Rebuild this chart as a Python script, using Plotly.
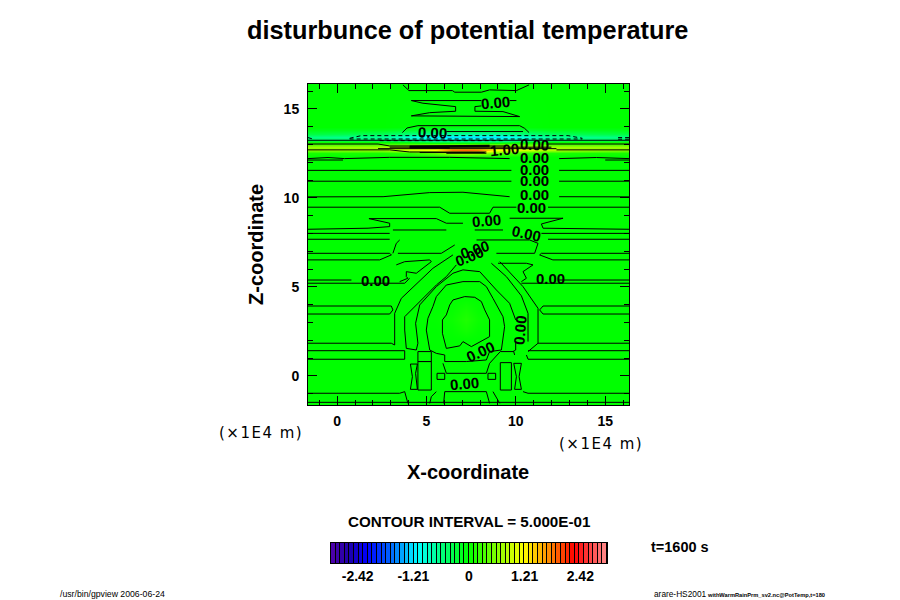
import plotly.graph_objects as go

# field sampled by eye, x and z in units of 1E4 m
field_x = [-1.63, 2.5, 4.0, 5.5, 6.4, 7.2, 7.9, 8.9, 10.5, 12.0, 16.33]
field_z = [-1.63, 2.0, 2.6, 3.2, 3.8, 4.5, 12.3, 12.55, 12.7, 12.85, 13.03, 13.15, 13.25, 13.4, 13.6, 13.8, 14.0, 16.33]
field_values = [
    [0, 0, 0, 0, 0, 0, 0, 0, 0, 0, 0],
    [0, 0, 0, 0, 0, 0, 0, 0, 0, 0, 0],
    [0, 0, 0, 0, 0.02, 0.08, 0.02, 0, 0, 0, 0],
    [0, 0, 0, 0.01, 0.05, 0.14, 0.05, 0.01, 0, 0, 0],
    [0, 0, 0, 0, 0.02, 0.08, 0.02, 0, 0, 0, 0],
    [0, 0, 0, 0, 0, 0, 0, 0, 0, 0, 0],
    [0, 0, 0, 0, 0, 0, 0, 0, 0, 0, 0],
    [0.1, 0.1, 0.2, 0.5, 0.8, 0.9, 0.8, 0.5, 0.2, 0.1, 0.1],
    [0.6, 0.7, 1.0, 1.2, 1.85, 1.9, 1.85, 1.2, 1.0, 0.8, 0.6],
    [0.7, 0.75, 0.85, 1.0, 1.1, 1.1, 1.1, 1.0, 0.85, 0.75, 0.7],
    [0.3, 0.3, 0.35, 0.4, 0.4, 0.4, 0.4, 0.4, 0.35, 0.3, 0.3],
    [0.05, 0.0, -0.1, -0.3, -0.3, -0.3, -0.3, -0.3, -0.1, 0.0, 0.05],
    [-0.4, -0.5, -0.7, -0.9, -0.9, -0.9, -0.9, -0.9, -0.7, -0.5, -0.4],
    [-0.6, -0.7, -0.95, -1.2, -1.2, -1.2, -1.2, -1.2, -0.95, -0.7, -0.6],
    [-0.3, -0.4, -0.55, -0.7, -0.7, -0.7, -0.7, -0.7, -0.55, -0.4, -0.3],
    [-0.1, -0.12, -0.2, -0.3, -0.3, -0.3, -0.3, -0.3, -0.2, -0.12, -0.1],
    [0, 0, -0.02, -0.05, -0.05, -0.05, -0.05, -0.05, -0.02, 0, 0],
    [0, 0, 0, 0, 0, 0, 0, 0, 0, 0, 0],
]

solid_lines = [
    # top of the domain
    [(3.68, 16.35), (4.02, 16.03), (6.45, 16.03), (6.58, 15.94), (8.07, 15.94), (8.53, 16.07), (10.03, 16.03), (10.74, 16.35)],
    [(4.15, 15.47), (8.07, 15.47)],
    [(9.65, 15.47), (10.03, 15.47)],
    [(4.15, 15.47), (4.80, 15.32), (6.63, 15.13), (6.63, 14.87), (5.18, 14.79), (4.15, 14.61), (10.21, 14.57), (9.28, 14.85), (7.71, 14.87), (7.71, 15.13), (8.07, 15.17)],
    [(3.65, 13.67), (3.91, 13.93), (4.52, 14.06), (10.21, 14.06), (10.49, 13.91), (10.74, 13.67)],
    [(6.11, 13.73), (10.40, 13.73)],
    # band around 13
    [(-1.63, 13.24), (16.33, 13.24)],
    [(-1.63, 13.03), (2.29, 13.03), (2.94, 12.92), (9.47, 12.92)],
    [(11.71, 13.03), (16.33, 13.03)],
    [(-1.63, 12.70), (2.94, 12.70), (4.06, 12.58), (8.35, 12.58)],
    [(12.27, 12.70), (16.33, 12.70)],
    [(2.29, 12.77), (12.27, 12.77)],
    [(2.94, 12.85), (11.99, 12.85)],
    [(4.62, 12.55), (8.26, 12.55)],
    [(6.11, 12.51), (8.35, 12.51)],
    # flat layers above the warm bubble
    [(-1.63, 12.21), (-0.51, 12.27), (0.42, 12.21), (2.94, 12.28), (6.30, 12.28), (9.65, 12.21)],
    [(12.42, 12.21), (14.51, 12.27), (16.33, 12.21)],
    [(-1.63, 12.13), (0.33, 12.13)],
    [(15.0, 12.13), (16.33, 12.13)],
    [(-1.63, 11.55), (9.75, 11.55)],
    [(12.42, 11.55), (16.33, 11.55)],
    [(-1.63, 10.94), (9.75, 10.94)],
    [(12.42, 10.94), (16.33, 10.94)],
    [(-1.63, 10.06), (2.57, 10.07), (5.18, 10.30), (7.04, 10.32), (9.65, 10.07)],
    [(12.42, 10.07), (16.33, 10.06)],
    [(-1.63, 9.48), (5.74, 9.48), (6.30, 9.14), (8.53, 9.14), (8.72, 9.48), (10.03, 9.48)],
    [(11.80, 9.48), (16.33, 9.48)],
    [(1.78, 8.84), (2.94, 8.58), (2.94, 8.39), (1.73, 8.30), (-1.63, 8.24)],
    [(1.78, 8.84), (5.55, 8.84), (6.11, 8.58), (7.04, 8.58)],
    [(9.65, 8.86), (12.64, 8.86), (11.43, 8.54), (11.52, 8.30), (16.33, 8.24)],
    [(-1.63, 8.01), (2.94, 8.01)],
    [(11.43, 8.01), (16.33, 8.01)],
    [(-1.63, 7.68), (2.94, 7.68)],
    [(11.80, 7.68), (16.33, 7.68)],
    [(3.12, 8.20), (6.11, 8.20)],
    [(7.70, 8.20), (9.28, 8.20)],
    # shoulders, left
    [(3.50, 7.64), (3.31, 7.45), (3.12, 6.89)],
    [(-1.63, 6.89), (2.94, 6.89), (3.03, 6.80), (2.38, 6.52), (-1.63, 6.52)],
    [(3.40, 6.89), (5.83, 6.89), (6.58, 7.36)],
    [(3.31, 6.24), (3.78, 6.42), (5.18, 6.52), (5.27, 6.42), (4.43, 5.77), (3.87, 5.86), (3.87, 5.58), (3.96, 5.49), (3.50, 5.30)],
    [(-1.63, 5.39), (0.80, 5.39)],
    [(-1.63, 5.21), (3.50, 5.21), (3.78, 5.21), (4.06, 5.49)],
    [(-1.63, 3.93), (3.03, 3.93), (3.12, 3.71), (2.94, 3.48), (-1.63, 3.48)],
    [(-1.63, 1.84), (3.03, 1.84), (3.22, 1.74), (3.22, 3.52), (3.59, 4.36), (4.90, 5.58), (5.36, 6.05), (6.48, 6.80)],
    [(-1.63, 1.42), (3.78, 1.42), (3.78, 0.94), (-1.63, 0.94)],
    # shoulders, right
    [(7.80, 7.64), (10.77, 7.64), (11.24, 7.45), (11.05, 6.89), (8.91, 6.89)],
    [(16.33, 6.89), (11.43, 6.89), (11.33, 6.80), (12.07, 6.52), (16.33, 6.52)],
    [(9.00, 6.33), (10.59, 6.33), (10.96, 6.24), (10.40, 5.86), (10.59, 5.49), (10.31, 5.30)],
    [(12.42, 5.39), (16.33, 5.39)],
    [(10.31, 5.21), (16.33, 5.21)],
    [(16.33, 3.93), (11.52, 3.93), (11.33, 3.71), (11.52, 3.48), (16.33, 3.48)],
    [(8.63, 6.33), (9.47, 5.58), (10.31, 4.50), (10.68, 3.52), (10.68, 1.93)],
    [(9.10, 6.42), (10.40, 5.02), (11.24, 3.80), (11.24, 1.84), (10.68, 1.37)],
    [(16.33, 1.84), (11.24, 1.84)],
    [(10.68, 1.42), (16.33, 1.42)],
    [(10.59, 1.18), (10.68, 0.94), (16.33, 0.94)],
    # warm bubble, nested lines
    [(7.14, 4.46), (6.48, 4.27), (6.30, 3.99), (6.11, 3.43), (5.89, 3.15), (5.89, 2.40), (6.11, 1.55), (6.86, 1.69), (7.04, 1.93), (7.51, 1.65), (8.53, 2.21), (8.53, 3.15), (8.26, 3.71), (8.07, 4.18), (7.70, 4.42), (7.14, 4.46)],
    [(7.04, 5.30), (6.11, 5.11), (5.55, 4.46), (5.36, 3.90), (5.08, 3.24), (4.99, 2.58), (5.18, 1.46), (5.55, 1.27), (6.02, 1.18), (6.02, 0.81), (7.23, 0.81)],
    [(7.98, 5.30), (8.35, 5.02), (8.72, 4.36), (9.28, 3.33), (9.37, 2.77), (9.19, 1.46), (8.53, 1.37), (8.35, 0.90), (7.23, 0.81)],
    [(7.04, 5.30), (7.98, 5.30)],
    [(3.78, 3.33), (3.78, 2.58), (3.87, 1.55), (4.43, 1.46), (4.52, 1.84), (4.39, 2.96), (4.62, 3.99), (5.55, 5.02), (6.48, 5.77), (7.04, 5.96), (7.98, 5.86), (8.91, 4.83), (9.65, 4.08), (9.99, 3.15)],
    [(9.99, 1.93), (9.99, 1.46), (9.84, 1.37)],
    [(3.78, 3.33), (4.71, 4.27), (5.55, 5.11), (6.11, 5.58), (6.67, 6.24)],
    # boxes near the ground
    [(4.52, 1.37), (5.27, 1.37), (5.27, 0.81), (4.52, 0.81), (4.52, 1.37)],
    [(4.52, 0.81), (5.27, 0.81), (5.27, -0.79), (4.52, -0.79), (4.52, 0.81)],
    [(4.10, 0.67), (4.49, 0.67), (4.39, 0.15), (4.49, -0.75), (4.10, -0.75), (4.21, -0.04), (4.10, 0.67)],
    [(5.59, 0.15), (6.02, 0.15), (6.02, -0.19), (5.59, -0.19), (5.59, 0.15)],
    [(8.44, 0.15), (8.87, 0.15), (8.87, -0.19), (8.44, -0.19), (8.44, 0.15)],
    [(9.13, 0.75), (9.75, 0.75), (9.75, -0.79), (9.13, -0.79), (9.13, 0.75)],
    [(9.88, 0.71), (10.31, 0.71), (10.18, -0.04), (10.31, -0.75), (9.93, -0.75), (10.03, -0.04), (9.88, 0.71)],
    [(9.13, 1.37), (9.88, 1.37), (9.93, 1.18)],
    [(5.92, 0.71), (6.11, 0.15), (8.35, 0.15), (8.53, 0.71), (9.13, 1.37)],
    [(6.02, -0.88), (8.35, -0.88), (8.53, -1.54)],
    [(6.02, -0.88), (5.96, -1.54)],
    [(5.55, -0.88), (5.27, -1.16), (5.18, -1.54)],
    [(8.72, -0.88), (9.10, -1.54)],
    [(-1.63, -0.97), (3.50, -0.97), (3.78, -0.88), (3.96, -1.54)],
    [(10.40, -0.88), (10.68, -0.97), (16.33, -0.97)],
    [(-1.63, -1.48), (16.33, -1.48)],
]

dashed_lines = [
    [(0.70, 13.35), (1.35, 13.50), (12.92, 13.50), (13.72, 13.35)],
    [(0.70, 13.31), (13.72, 13.31)],
    [(2.38, 13.22), (9.28, 13.22)],
    [(-1.63, 13.39), (-1.32, 13.30)],
    [(15.72, 13.39), (16.33, 13.39)],
    [(15.72, 13.30), (16.33, 13.30)],
]

thick_lines = [
    [(4.06, 12.88), (8.53, 12.92)],
    [(4.06, 12.84), (6.30, 12.84)],
]

label_text = ["0.00", "0.00", "1.00", "0.00", "0.00", "0.00", "0.00", "0.00", "0.00", "0.00", "0.00", "0.00", "0.00", "0.00", "0.00", "0.00", "0.00", "0.00"]
label_x = [8.87, 5.34, 9.37, 11.05, 11.05, 11.05, 11.05, 11.05, 10.88, 8.37, 10.60, 7.69, 7.41, 2.15, 11.95, 10.21, 8.03, 7.13]
label_z = [15.34, 13.65, 12.70, 13.03, 12.25, 11.57, 10.96, 10.17, 9.49, 8.71, 8.03, 7.13, 6.69, 5.39, 5.45, 2.58, 1.35, -0.45]
label_angle = [-5, 2, -5, 3, 0, 0, 0, 0, 0, -5, 12, -18, -22, 0, 0, -85, -25, -5]

tone_levels = [
    -2.95, -2.85, -2.75, -2.65, -2.55, -2.45, -2.35, -2.25, -2.15, -2.05,
    -1.95, -1.85, -1.75, -1.65, -1.55, -1.45, -1.35, -1.25, -1.15, -1.05,
    -0.95, -0.85, -0.75, -0.65, -0.55, -0.45, -0.35, -0.25, -0.15, -0.05,
    0.05, 0.15, 0.25, 0.35, 0.45, 0.55, 0.65, 0.75, 0.85, 0.95,
    1.05, 1.15, 1.25, 1.35, 1.45, 1.55, 1.65, 1.75, 1.85, 1.95,
    2.05, 2.15, 2.25, 2.35, 2.45, 2.55, 2.65, 2.75, 2.85, 2.95,
]
tone_ticks = [-2.42, -1.21, 0, 1.21, 2.42]
tone_tick_text = ["<b>-2.42</b>", "<b>-1.21</b>", "<b>0</b>", "<b>1.21</b>", "<b>2.42</b>"]
axis_ticks = [0, 5, 10, 15]
axis_tick_text = ["<b>0</b>", "<b>5</b>", "<b>10</b>", "<b>15</b>"]

rainbow = [
    [0.0, "rgb(80,0,170)"], [0.067, "rgb(30,0,170)"], [0.133, "rgb(0,0,255)"],
    [0.217, "rgb(0,100,255)"], [0.317, "rgb(0,255,255)"], [0.4, "rgb(0,255,130)"],
    [0.5, "rgb(0,255,0)"], [0.6, "rgb(130,255,0)"], [0.7, "rgb(255,255,0)"],
    [0.8, "rgb(255,130,0)"], [0.883, "rgb(255,0,0)"], [1.0, "rgb(255,140,140)"],
]

SANS = "Liberation Sans"
# the page body has an 8px margin, so everything is placed 8px up and left
PAGE_MARGIN = 8


def paper_x(px):
    return (px - PAGE_MARGIN) / 900


def paper_y(py):
    return 1 - (py - PAGE_MARGIN) / 600


def add_lines(fig, lines, width=1, dash="solid"):
    xs, ys = [], []
    for line in lines:
        xs += [p[0] for p in line] + [None]
        ys += [p[1] for p in line] + [None]
    fig.add_trace(go.Scatter(x=xs, y=ys, mode="lines", showlegend=False,
                             line=dict(color="black", width=width, dash=dash)))


def add_text(fig, px, py, text, size, bold=True, family=SANS, angle=0, xanchor="center"):
    fig.add_annotation(x=paper_x(px), y=paper_y(py), xref="paper", yref="paper",
                       text=f"<b>{text}</b>" if bold else text,
                       showarrow=False, textangle=angle, xanchor=xanchor, yanchor="middle",
                       font=dict(family=family, size=size, color="black"))


fig = go.Figure()
fig.add_trace(go.Heatmap(x=field_x, y=field_z, z=field_values, colorscale=rainbow, zmin=-3, zmax=3,
                         zsmooth="best", showscale=False))
add_lines(fig, solid_lines)
add_lines(fig, dashed_lines, dash="4px,3px")
add_lines(fig, thick_lines, width=2.5)

for text, x, z, angle in zip(label_text, label_x, label_z, label_angle):
    fig.add_annotation(x=x, y=z, text=f"<b>{text}</b>", showarrow=False, textangle=angle,
                       font=dict(family=SANS, size=15, color="black"))

# tone bar
fig.add_trace(go.Heatmap(x=tone_levels, y=[0], z=[tone_levels], colorscale=rainbow, zmin=-3, zmax=3,
                         xgap=1, showscale=False, xaxis="x2", yaxis="y2"))

tick_font = dict(family=SANS, size=14, color="black")
minor_ticks = dict(dtick=1, tick0=0, ticks="inside", ticklen=5, tickcolor="black", showgrid=False)
fig.update_layout(
    width=900, height=600,
    margin=dict(l=0, r=0, t=0, b=0),
    paper_bgcolor="white", plot_bgcolor="black",
    xaxis=dict(domain=[paper_x(308), paper_x(629)], range=[-1.63, 16.33], tickvals=axis_ticks,
               ticktext=axis_tick_text, ticks="inside", ticklen=9, tickcolor="black", ticklabelstandoff=3,
               showline=True, linecolor="black", linewidth=1,
               mirror="allticks", showgrid=False, zeroline=False, tickfont=tick_font, minor=minor_ticks),
    yaxis=dict(domain=[paper_y(405), paper_y(84)], range=[-1.63, 16.4], tickvals=axis_ticks,
               ticktext=axis_tick_text, ticks="inside", ticklen=9, tickcolor="black", ticklabelstandoff=5,
               showline=True, linecolor="black", linewidth=1,
               mirror="allticks", showgrid=False, zeroline=False, tickfont=tick_font, minor=minor_ticks),
    xaxis2=dict(domain=[paper_x(331), paper_x(607)], range=[-3, 3], anchor="y2", tickvals=tone_ticks,
                ticktext=tone_tick_text, ticks="", showline=True, linecolor="black", linewidth=1, mirror=True,
                showgrid=False, zeroline=False, tickfont=dict(family=SANS, size=14, color="black")),
    yaxis2=dict(domain=[paper_y(563), paper_y(543)], anchor="x2", range=[-0.5, 0.5], showticklabels=False,
                ticks="", showline=True, linecolor="black", linewidth=1, mirror=True,
                showgrid=False, zeroline=False),
)

add_text(fig, 468, 30, "disturbunce of potential temperature", 25.3)
add_text(fig, 468, 472, "X-coordinate", 20)
add_text(fig, 256, 245, "Z-coordinate", 20, angle=-90)
add_text(fig, 261, 433, "(\u200a×\u200a1\u200aE\u200a4\u200a \u200am\u200a)", 15, bold=False, family="DejaVu Sans")
add_text(fig, 600, 444, "(\u200a×\u200a1\u200aE\u200a4\u200a \u200am\u200a)", 15, bold=False, family="DejaVu Sans")
add_text(fig, 469, 521, "CONTOUR INTERVAL = 5.000E-01", 15.2)
add_text(fig, 680, 547, "t=1600 s", 14.5)
add_text(fig, 58, 594, "/usr/bin/gpview 2006-06-24", 8.7, bold=False, xanchor="left")
add_text(fig, 652, 594, "arare-HS2001", 8.3, bold=False, xanchor="left")
add_text(fig, 705, 595, "withWarmRainPrm_sv2.nc@PotTemp,t=180", 5.7, xanchor="left")

fig.write_html("out.html")
